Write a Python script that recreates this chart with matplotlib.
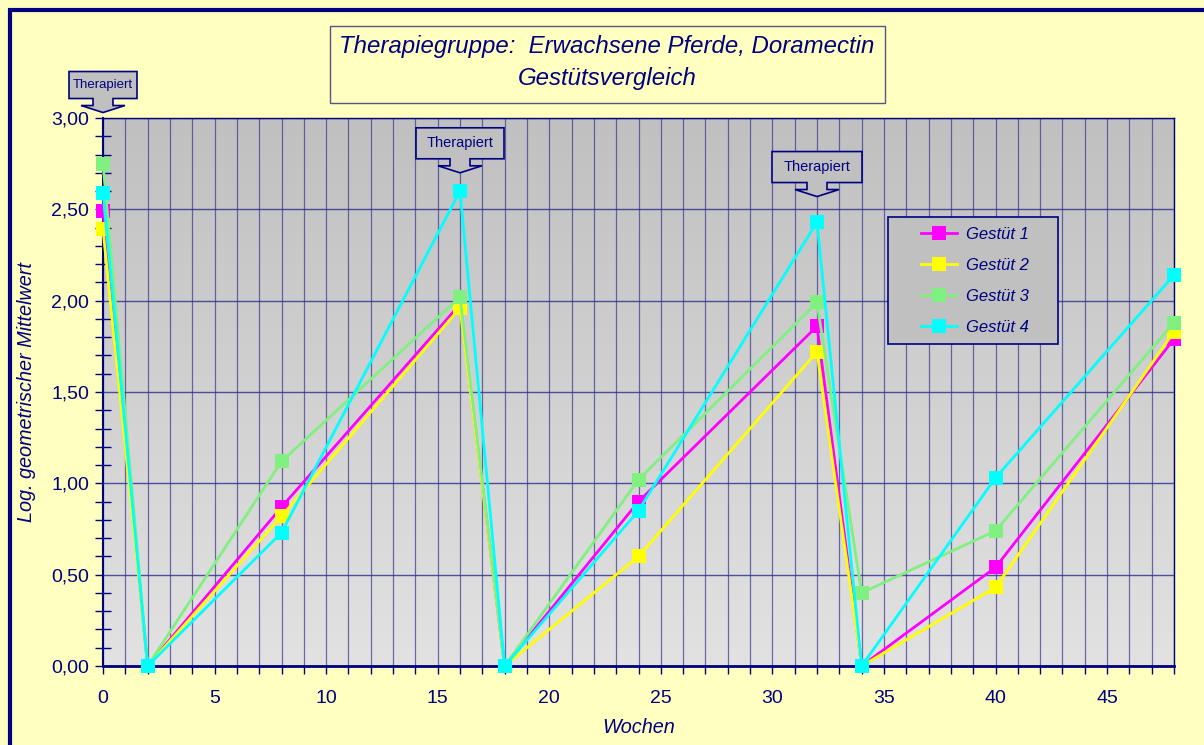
import numpy as np
import matplotlib.pyplot as plt
from matplotlib.colors import LinearSegmentedColormap
from matplotlib.patches import Polygon, Rectangle
from matplotlib.transforms import IdentityTransform
from matplotlib.ticker import MultipleLocator

plt.rcParams['font.family'] = ['Liberation Sans', 'DejaVu Sans']

# --------------------------------------------------
# Data
# --------------------------------------------------
wochen = [0, 2, 8, 16, 18, 24, 32, 34, 40, 48]

gestuet_1 = [2.49, 0.00, 0.87, 1.98, 0.00, 0.90, 1.86, 0.00, 0.54, 1.79]
gestuet_2 = [2.39, 0.00, 0.82, 1.96, 0.00, 0.60, 1.72, 0.00, 0.43, 1.83]
gestuet_3 = [2.75, 0.00, 1.12, 2.02, 0.00, 1.02, 1.99, 0.40, 0.74, 1.88]
gestuet_4 = [2.59, 0.00, 0.73, 2.60, 0.00, 0.85, 2.43, 0.00, 1.03, 2.14]

series_labels = ["Gestüt 1", "Gestüt 2", "Gestüt 3", "Gestüt 4"]
series_colors = ["#ff00ff", "#ffff00", "#80f080", "#00ffff"]

# treatment callouts: week, tip height
therapie_wochen = [0, 16, 32]
therapie_tip = [3.03, 2.70, 2.57]

navy = "#000080"
bg_yellow = "#ffffc0"

# --------------------------------------------------
# Figure / axes
# --------------------------------------------------
W, H = 1204, 745
fig = plt.figure(figsize=(W / 100, H / 100), dpi=100, facecolor=bg_yellow)
ax = fig.add_axes([103 / W, 1 - 666 / H, 1071 / W, 548 / H])

ax.set_xlim(0, 48)
ax.set_ylim(0, 3)

# gray gradient background
grad = np.linspace(0, 1, 256).reshape(-1, 1)
ax.imshow(grad, extent=[0, 48, 0, 3], aspect="auto", origin="lower",
          cmap=LinearSegmentedColormap.from_list("g", ["#e2e2e2", "#c0c0c0"]),
          zorder=0)

for vals, lab, col in zip([gestuet_1, gestuet_2, gestuet_3, gestuet_4],
                          series_labels, series_colors):
    ax.plot(wochen, vals, color=col, lw=2, marker="s", markersize=9.5,
            markeredgewidth=0, label=lab, zorder=3, clip_on=False)

# ticks / grid
ax.xaxis.set_major_locator(MultipleLocator(5))
ax.xaxis.set_minor_locator(MultipleLocator(1))
ax.yaxis.set_major_locator(MultipleLocator(0.5))
ax.yaxis.set_minor_locator(MultipleLocator(0.1))
ax.set_yticks(ax.get_yticks())
ax.set_yticklabels([f"{v:.2f}".replace(".", ",") for v in ax.get_yticks()])
ax.set_ylim(0, 3)

ax.grid(True, which="both", axis="x", color="#35358f", lw=0.9, alpha=0.7, zorder=1)
ax.grid(True, which="major", axis="y", color="#35358f", lw=1.0, alpha=0.85, zorder=1)
ax.set_axisbelow(True)

ax.tick_params(axis="both", which="both", colors=navy, labelsize=14,
               labelcolor=navy)
ax.tick_params(axis="x", which="both", direction="out", length=6, width=1)
ax.tick_params(axis="y", which="major", direction="out", length=6, width=1,
               pad=4)
ax.tick_params(axis="y", which="minor", direction="inout", length=12, width=1)
ax.tick_params(axis="x", pad=11)

for s in ax.spines.values():
    s.set_color(navy)
    s.set_linewidth(1)
ax.spines["bottom"].set_linewidth(2)
ax.spines["left"].set_linewidth(1.5)

ax.set_xlabel("Wochen", fontsize=14.3, style="italic", color=navy, labelpad=8)
ax.set_ylabel("Log. geometrischer Mittelwert", fontsize=14.3, style="italic",
              color=navy, labelpad=11)

# legend: frame drawn as a separate rectangle for exact padding
ax.add_patch(Rectangle((888, H - 344), 170, 127, transform=IdentityTransform(),
                       facecolor="#c0c0c0", edgecolor=navy, lw=1.2,
                       zorder=4.5, clip_on=False))
leg = ax.legend(loc="upper left", bbox_to_anchor=(0.764, 0.8015),
                frameon=False, borderpad=0, labelspacing=0.97,
                handlelength=2.16, handletextpad=0.54, borderaxespad=0,
                prop={"size": 12, "style": "italic"})
for t in leg.get_texts():
    t.set_color(navy)
leg.set_zorder(5)

# --------------------------------------------------
# Title box
# --------------------------------------------------
fig.add_artist(Rectangle((330, H - 103), 555, 77, transform=IdentityTransform(),
                         facecolor=bg_yellow, edgecolor="#555588", lw=1))
fig.text(607, H - 47, "Therapiegruppe:  Erwachsene Pferde, Doramectin",
         transform=IdentityTransform(), ha="center", va="center",
         fontsize=17.3, style="italic", color=navy)
fig.text(607, H - 79, "Gestütsvergleich", transform=IdentityTransform(),
         ha="center", va="center", fontsize=17.3, style="italic", color=navy)

# outer border
fig.add_artist(Rectangle((10, -10), W, H, transform=IdentityTransform(),
                         facecolor="none", edgecolor=navy, lw=3))

# --------------------------------------------------
# "Therapiert" callouts
# --------------------------------------------------
fig.canvas.draw()
sizes = [(68, 27, 9.5), (88, 31, 10.5), (90, 31, 10.5)]
for wk, tip, (bw, bh, fs) in zip(therapie_wochen, therapie_tip, sizes):
    tx, ty = ax.transData.transform((wk, tip))
    ah, nh, nw, ww = 7, 7, 10, 22
    verts = [
        (tx, ty), (tx + ww, ty + ah), (tx + nw, ty + ah), (tx + nw, ty + ah + nh),
        (tx + bw / 2, ty + ah + nh), (tx + bw / 2, ty + ah + nh + bh),
        (tx - bw / 2, ty + ah + nh + bh), (tx - bw / 2, ty + ah + nh),
        (tx - nw, ty + ah + nh), (tx - nw, ty + ah), (tx - ww, ty + ah),
    ]
    fig.add_artist(Polygon(verts, closed=True, transform=IdentityTransform(),
                           facecolor="#c0c0c0", edgecolor=navy, lw=1.2,
                           zorder=6))
    fig.text(tx, ty + ah + nh + bh / 2, "Therapiert",
             transform=IdentityTransform(), ha="center", va="center",
             fontsize=fs, color=navy, zorder=7)

fig.savefig("out.png", dpi=100, facecolor=bg_yellow)
